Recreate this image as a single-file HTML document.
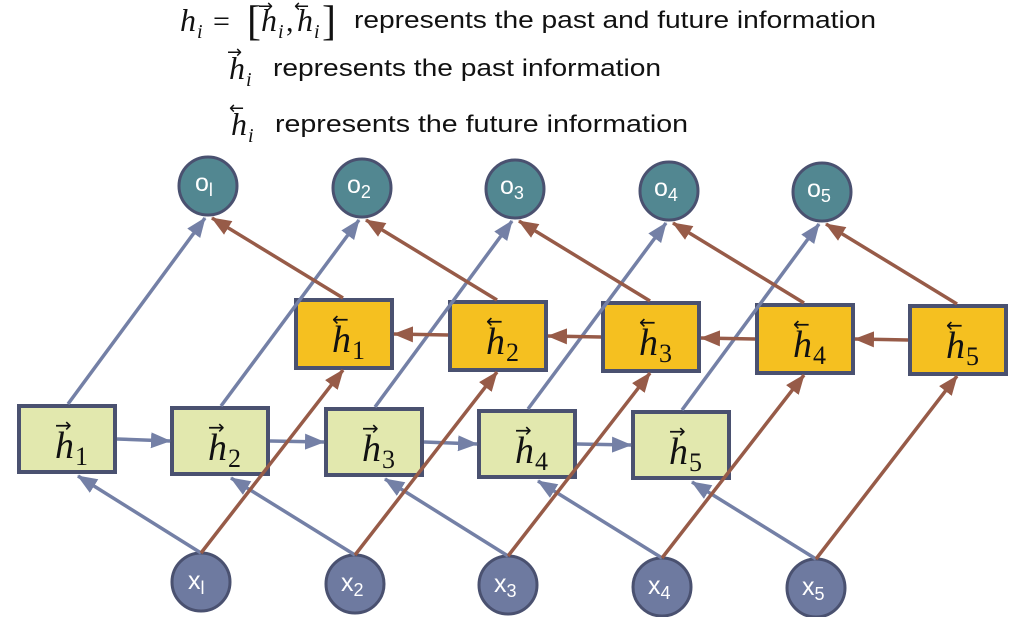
<!DOCTYPE html>
<html><head><meta charset="utf-8"><style>
html,body{margin:0;padding:0;background:#fff;width:1012px;height:617px;overflow:hidden}
svg{display:block}
.m{font-family:"Liberation Serif",serif;font-style:italic}
.t{font-family:"Liberation Sans",sans-serif;fill:#111}
.cl{font-family:"Liberation Sans",sans-serif;fill:#fff}
</style></head><body>
<svg width="1012" height="617" viewBox="0 0 1012 617" xmlns="http://www.w3.org/2000/svg">
<defs>
<marker id="ab" markerUnits="userSpaceOnUse" markerWidth="20" markerHeight="16" refX="19" refY="8" orient="auto"><path d="M0,0 L20,8 L0,16 Z" fill="#7480a6"/></marker>
<marker id="ar" markerUnits="userSpaceOnUse" markerWidth="20" markerHeight="16" refX="19" refY="8" orient="auto"><path d="M0,0 L20,8 L0,16 Z" fill="#975b48"/></marker>
</defs>

<!-- header -->
<g fill="#111">
<text class="m" x="180" y="31" font-size="32">h</text><text class="m" x="197" y="38" font-size="20">i</text>
<text x="213" y="31" font-size="30" font-family="Liberation Serif,serif">=</text>
<text x="247" y="35" font-size="42" font-family="Liberation Serif,serif">[</text>
<text class="m" x="261" y="31" font-size="32">h</text><text class="m" x="278" y="38" font-size="20">i</text>
<text x="258" y="12" font-size="18" font-family="DejaVu Sans,sans-serif">→</text>
<text x="286" y="31" font-size="30" font-family="Liberation Serif,serif">,</text>
<text class="m" x="297" y="31" font-size="32">h</text><text class="m" x="314" y="38" font-size="20">i</text>
<text x="294" y="12" font-size="18" font-family="DejaVu Sans,sans-serif">←</text>
<text x="322" y="35" font-size="42" font-family="Liberation Serif,serif">]</text>
<text class="t" x="354" y="28" font-size="24" textLength="522" lengthAdjust="spacingAndGlyphs">represents the past and future information</text>

<text class="m" x="229" y="79" font-size="32">h</text><text class="m" x="246" y="86" font-size="20">i</text>
<text x="227" y="58" font-size="18" font-family="DejaVu Sans,sans-serif">→</text>
<text class="t" x="273" y="76" font-size="24" textLength="388" lengthAdjust="spacingAndGlyphs">represents the past information</text>

<text class="m" x="231" y="135" font-size="32">h</text><text class="m" x="248" y="142" font-size="20">i</text>
<text x="229" y="114" font-size="18" font-family="DejaVu Sans,sans-serif">←</text>
<text class="t" x="275" y="132" font-size="24" textLength="413" lengthAdjust="spacingAndGlyphs">represents the future information</text>
</g>

<!-- forward boxes -->
<g stroke="#4a5170" stroke-width="4" fill="#e2e8ae">
<rect x="19" y="406" width="96" height="66"/>
<rect x="172" y="408" width="96" height="66"/>
<rect x="326" y="409" width="96" height="66"/>
<rect x="479" y="411" width="96" height="66"/>
<rect x="633" y="412" width="96" height="66"/>
</g>
<!-- backward boxes -->
<g stroke="#4a5170" stroke-width="4" fill="#f5c020">
<rect x="296" y="300" width="96" height="68"/>
<rect x="450" y="302" width="96" height="68"/>
<rect x="603" y="303" width="96" height="68"/>
<rect x="757" y="305" width="96" height="68"/>
<rect x="910" y="306" width="96" height="68"/>
</g>
<!-- circles -->
<g stroke="#4a5170" stroke-width="3" fill="#528791">
<circle cx="208" cy="186" r="29"/><circle cx="362" cy="188" r="29"/><circle cx="515" cy="189" r="29"/><circle cx="669" cy="191" r="29"/><circle cx="822" cy="192" r="29"/>
</g>
<g stroke="#4a5170" stroke-width="3" fill="#6e7aa0">
<circle cx="201" cy="582" r="29"/><circle cx="355" cy="584" r="29"/><circle cx="508" cy="585" r="29"/><circle cx="662" cy="587" r="29"/><circle cx="816" cy="588" r="29"/>
</g>

<!-- blue lines -->
<g stroke="#7480a6" stroke-width="3.5" fill="none" marker-end="url(#ab)">
<line x1="201" y1="553" x2="78" y2="476"/>
<line x1="355" y1="555" x2="231" y2="478"/>
<line x1="508" y1="556" x2="385" y2="479"/>
<line x1="662" y1="558" x2="538" y2="481"/>
<line x1="816" y1="559" x2="692" y2="482"/>
<line x1="68" y1="404" x2="205" y2="218"/>
<line x1="221" y1="406" x2="359" y2="220"/>
<line x1="375" y1="407" x2="512" y2="221"/>
<line x1="528" y1="409" x2="666" y2="223"/>
<line x1="682" y1="410" x2="819" y2="224"/>
<line x1="117" y1="439" x2="170" y2="441"/>
<line x1="270" y1="441" x2="324" y2="442"/>
<line x1="424" y1="442" x2="477" y2="444"/>
<line x1="577" y1="444" x2="631" y2="445"/>
</g>
<!-- brown lines -->
<g stroke="#975b48" stroke-width="3.5" fill="none" marker-end="url(#ar)">
<line x1="201" y1="553" x2="343" y2="370"/>
<line x1="355" y1="555" x2="497" y2="372"/>
<line x1="508" y1="556" x2="650" y2="373"/>
<line x1="662" y1="558" x2="804" y2="375"/>
<line x1="816" y1="559" x2="957" y2="376"/>
<line x1="343" y1="298" x2="212" y2="218"/>
<line x1="497" y1="300" x2="366" y2="220"/>
<line x1="650" y1="301" x2="519" y2="221"/>
<line x1="804" y1="303" x2="673" y2="223"/>
<line x1="957" y1="304" x2="826" y2="224"/>
<line x1="448" y1="335" x2="394" y2="334"/>
<line x1="601" y1="337" x2="548" y2="336"/>
<line x1="755" y1="339" x2="701" y2="338"/>
<line x1="908" y1="340" x2="855" y2="339"/>
</g>

<!-- box labels -->
<g fill="#111">
<g font-family="DejaVu Sans,sans-serif" font-size="20">
<text x="55" y="432">→</text><text x="208" y="434">→</text><text x="362" y="435">→</text><text x="515" y="437">→</text><text x="669" y="438">→</text>
<text x="332" y="326">←</text><text x="486" y="328">←</text><text x="639" y="329">←</text><text x="793" y="331">←</text><text x="946" y="332">←</text>
</g>
<g class="m" font-size="38">
<text x="55" y="458">h</text><text x="208" y="460">h</text><text x="362" y="461">h</text><text x="515" y="463">h</text><text x="669" y="464">h</text>
<text x="332" y="352">h</text><text x="486" y="354">h</text><text x="639" y="355">h</text><text x="793" y="357">h</text><text x="946" y="358">h</text>
</g>
<g font-family="Liberation Serif,serif" font-size="26">
<text x="75" y="465">1</text><text x="228" y="467">2</text><text x="382" y="468">3</text><text x="535" y="470">4</text><text x="689" y="471">5</text>
<text x="352" y="359">1</text><text x="506" y="361">2</text><text x="659" y="362">3</text><text x="813" y="364">4</text><text x="966" y="365">5</text>
</g>
</g>

<!-- circle labels -->
<g class="cl">
<text x="195" y="191" font-size="25">o<tspan font-size="18" dy="5">l</tspan></text>
<text x="347" y="193" font-size="25">o<tspan font-size="18" dy="5">2</tspan></text>
<text x="500" y="194" font-size="25">o<tspan font-size="18" dy="5">3</tspan></text>
<text x="654" y="196" font-size="25">o<tspan font-size="18" dy="5">4</tspan></text>
<text x="807" y="197" font-size="25">o<tspan font-size="18" dy="5">5</tspan></text>
<text x="188" y="589" font-size="25">x<tspan font-size="18" dy="5">l</tspan></text>
<text x="341" y="591" font-size="25">x<tspan font-size="18" dy="5">2</tspan></text>
<text x="494" y="592" font-size="25">x<tspan font-size="18" dy="5">3</tspan></text>
<text x="648" y="594" font-size="25">x<tspan font-size="18" dy="5">4</tspan></text>
<text x="802" y="595" font-size="25">x<tspan font-size="18" dy="5">5</tspan></text>
</g>
</svg>
</body></html>
